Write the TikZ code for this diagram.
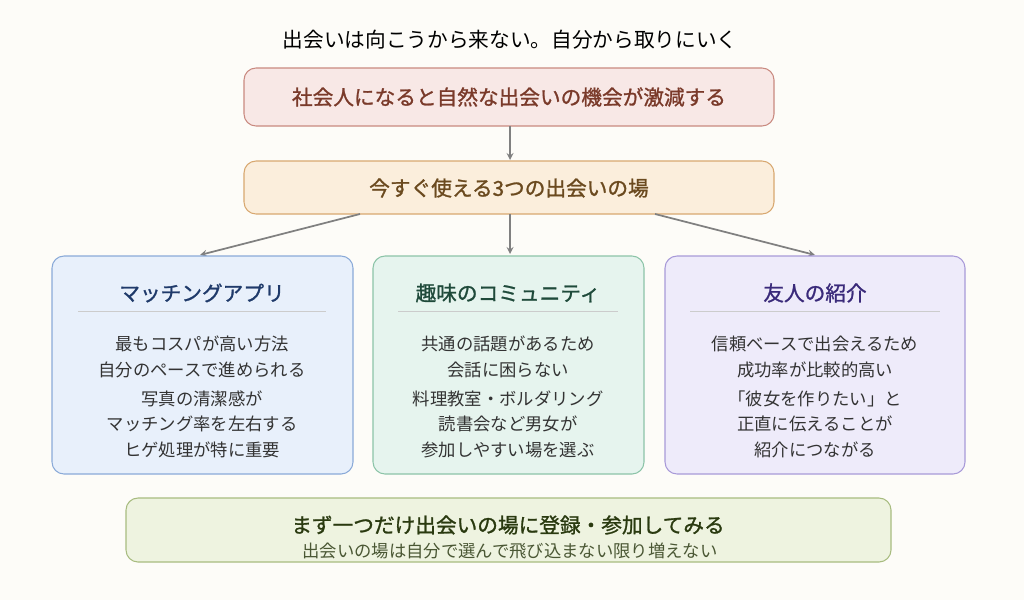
\documentclass[tikz,border=0pt]{standalone}
\usepackage{fontspec}
\setmainfont{Noto Sans CJK JP}
\newfontfamily\jpb{Noto Sans CJK JP}[FakeBold=1.2]
\begin{document}
\begin{tikzpicture}[x=0.75pt,y=-0.75pt,
 box/.style={draw=#1,line width=0.8pt,rounded corners=9pt},
 arr/.style={draw=black!50,line width=1.3pt,->,>=stealth},
 body/.style={font=\fontsize{13}{15}\selectfont,text=black!80,align=center},
 head/.style={font=\fontsize{15.5}{17}\selectfont\jpb}]
\definecolor{bg}{HTML}{FDFCF8}
\fill[bg] (0,0) rectangle (1024,600);
\useasboundingbox (0,0) rectangle (1024,600);
\node[head,font=\fontsize{15.5}{17}\selectfont] (title) at (510,40) {出会いは向こうから来ない。自分から取りにいく};
\definecolor{c1f}{HTML}{F8E8E6}\definecolor{c1d}{HTML}{C98A80}\definecolor{c1t}{HTML}{7A3A2A}
\definecolor{c2f}{HTML}{FBEEDC}\definecolor{c2d}{HTML}{D8A870}\definecolor{c2t}{HTML}{6B4A1F}
\definecolor{caf}{HTML}{E8F0FB}\definecolor{cad}{HTML}{8AAAD8}\definecolor{cat}{HTML}{1F3A6A}
\definecolor{cbf}{HTML}{E6F4EE}\definecolor{cbd}{HTML}{8CC4A8}\definecolor{cbt}{HTML}{1F4A3A}
\definecolor{ccf}{HTML}{EEEBFA}\definecolor{ccd}{HTML}{A89AD8}\definecolor{cct}{HTML}{3A2A7A}
\definecolor{cdf}{HTML}{EEF3E0}\definecolor{cdd}{HTML}{A8BC80}\definecolor{cdt}{HTML}{2A3A10}
\path[box=c1d,fill=c1f] (244,68) rectangle (774,126);
\node[head,text=c1t] (b1) at (509,97) {社会人になると自然な出会いの機会が激減する};
\path[box=c2d,fill=c2f] (244,161) rectangle (774,214);
\node[head,text=c2t] (b2) at (509,188) {今すぐ使える3つの出会いの場};
\coordinate (b1s) at (510,126); \coordinate (b2n) at (510,160);
\draw[arr] (b1s) -- (b2n);
\coordinate (o1) at (360,214); \coordinate (o2) at (510,214); \coordinate (o3) at (655,214);
\coordinate (t1) at (200,255); \coordinate (t2) at (510,254); \coordinate (t3) at (815,255);
\draw[arr] (o1)--(t1); \draw[arr] (o2)--(t2); \draw[arr] (o3)--(t3);
\path[box=cad,fill=caf] (52,256) rectangle (353,474);
\path[box=cbd,fill=cbf] (373,256) rectangle (644,474);
\path[box=ccd,fill=ccf] (665,256) rectangle (965,474);
\node[head,text=cat] (ta) at (202,293) {マッチングアプリ};
\node[head,text=cbt] (tb) at (508,293) {趣味のコミュニティ};
\node[head,text=cct] (tc) at (815,293) {友人の紹介};
\draw[black!20,line width=0.6pt] (78,311)--(326,311) (398,311)--(618,311) (690,311)--(940,311);
\foreach \x/\n/\a/\b/\c/\d/\e in {202/a/最もコスパが高い方法/自分のペースで進められる/写真の清潔感が/マッチング率を左右する/ヒゲ処理が特に重要,
 508/b/共通の話題があるため/会話に困らない/料理教室・ボルダリング/読書会など男女が/参加しやすい場を選ぶ,
 815/c/信頼ベースで出会えるため/成功率が比較的高い/「彼女を作りたい」と/正直に伝えることが/紹介につながる}{
 \node[body] (\n1) at (\x,344) {\a};
 \node[body] (\n2) at (\x,370) {\b};
 \node[body] (\n3) at (\x,399) {\c};
 \node[body] (\n4) at (\x,424) {\d};
 \node[body] (\n5) at (\x,450) {\e};
}
\path[box=cdd,fill=cdf] (126,498) rectangle (891,562);
\node[head,text=cdt] (d1) at (508,525) {まず一つだけ出会いの場に登録・参加してみる};
\node[text=cdt!85] (d2) at (510,551) {\fontsize{13}{15}\selectfont 出会いの場は自分で選んで飛び込まない限り増えない};
\end{tikzpicture}
\end{document}
